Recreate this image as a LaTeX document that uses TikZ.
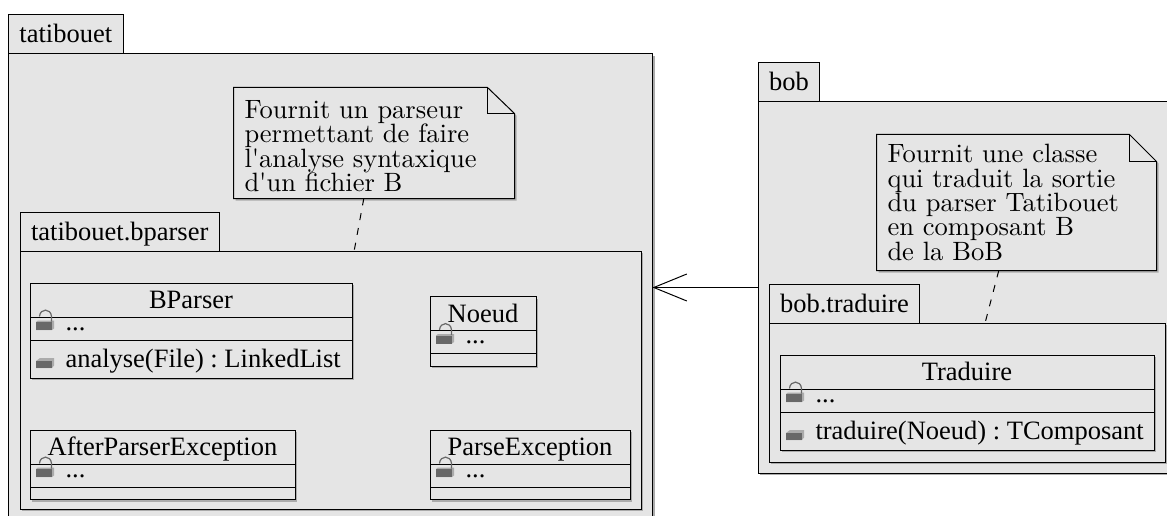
\documentclass[tikz,border=0pt]{standalone}
\usepackage{fontspec}
\setmainfont{Liberation Serif}
\newfontfamily\notefont{lmroman10-regular}[Extension=.otf]
\usepackage{tikz}
\usetikzlibrary{positioning,shadows,arrows.meta}
\definecolor{umlfill}{HTML}{E5E5E5}
\definecolor{umlshadow}{HTML}{ABABAB}
\definecolor{umlicon}{HTML}{686868}
\tikzset{
    umlshade/.style={drop shadow={shadow xshift=2.2pt, shadow yshift=-2.2pt, fill=umlshadow, opacity=1}},
    lockicon/.pic={
        \fill[umlshadow] (6,-6.5) -- (8,-8) -- (24,-8) -- (24,0) -- (22,1.5) -- (6,1.5) -- cycle;
        \fill[umlicon] (6,-6.5) rectangle (22,1.5);
        \draw[umlicon, line width=1.2pt] (9.5,-12) .. controls (10,-20.5) and (21,-20.5) .. (21.5,-12) -- (21.5,-7);
    },
    cubeicon/.pic={
        \fill[umlshadow] (6,2) -- (10,-1) -- (24,-1) -- (24,6.5) -- (22,9) -- (6,9) -- cycle;
        \fill[umlicon] (6,2) rectangle (22,9);
    },
}

\begin{document}
\begin{tikzpicture}[
x=1pt, y=-1pt, line width=1pt,
every node/.style={font=\frenchspacing\fontsize{26.5pt}{30pt}\selectfont, outer sep=0pt, inner sep=0pt},
packagebody/.style={rectangle, draw=black, fill=umlfill, umlshade, anchor=north west},
packagetab/.style={rectangle, draw=black, fill=umlfill, inner xsep=11pt, minimum height=39pt, text height=17pt, text depth=0pt},
classname/.style={rectangle, draw=black, fill=umlfill, umlshade, minimum width=#1, minimum height=34pt, text height=17pt, text depth=0pt},
classattr/.style={rectangle, draw=black, fill=umlfill, umlshade, minimum width=#1, minimum height=23pt},
classoper/.style={rectangle, draw=black, fill=umlfill, umlshade, minimum width=#1, minimum height=38pt},
classempty/.style={rectangle, draw=black, fill=umlfill, umlshade, minimum width=#1, minimum height=12.5pt},
membertext/.style={anchor=base west},
notebox/.style={draw=black, fill=umlfill, umlshade},
notetext/.style={font=\notefont\fontsize{26.5pt}{24.4pt}\selectfont, anchor=north west, inner xsep=11pt, align=left},
]
\clip (0,0) rectangle (1167,516);

% left package
\node[packagebody, minimum width=644pt, minimum height=468pt] (tatibouet) at (8.5,54) {};
\node[packagetab] (tatibouettab) [above right=0pt of tatibouet.north west] {tatibouet};

\draw[notebox] (233.5,87.5) -- (487.5,87.5) -- (514.5,113.5) -- (514.5,198.5) -- (233.5,198.5) -- cycle;
\draw (487.5,87.5) -- (487.5,113.5) -- (514.5,113.5);
\node[notetext, text width=259pt, minimum height=111pt] (noteparser) at (233.5,87.5) {\rule{0pt}{24pt}Fournit un parseur\\permettant de faire\\l'analyse syntaxique\\d'un fichier B};

\node[packagebody, minimum width=621pt, minimum height=258pt] (bparser) at (20,251) {};
\node[packagetab] (bparsertab) [above right=0pt of bparser.north west] {tatibouet.bparser};

\node[classname=322pt] (parserclass) at (191,300) {BParser};
\node[classattr=322pt] (parserattr) [below=0pt of parserclass] {};
\node[classoper=322pt] (parseroper) [below=0pt of parserattr] {};
\node[membertext] (parserdots) at ([shift={(35.5,1.5)}]parserattr.west) {...};
\node[membertext] (parsertext) at ([shift={(35.5,8)}]parseroper.west) {analyse(File) : LinkedList};
\pic at (parserattr.west) {lockicon};
\pic at (parseroper.west) {cubeicon};

\node[classname=106pt] (noeudclass) at (483,313.5) {Noeud};
\node[classattr=106pt] (noeudattr) [below=0pt of noeudclass] {};
\node[classempty=106pt] (noeudoper) [below=0pt of noeudattr] {};
\node[membertext] (noeuddots) at ([shift={(35.5,1.5)}]noeudattr.west) {...};
\pic at (noeudattr.west) {lockicon};

\node[classname=265pt] (afterclass) at (162.5,447) {AfterParserException};
\node[classattr=265pt] (afterattr) [below=0pt of afterclass] {};
\node[classempty=265pt] (afteroper) [below=0pt of afterattr] {};
\node[membertext] (afterdots) at ([shift={(35.5,1.5)}]afterattr.west) {...};
\pic at (afterattr.west) {lockicon};

\node[classname=200pt] (parseclass) at (530,447) {ParseException};
\node[classattr=200pt] (parseattr) [below=0pt of parseclass] {};
\node[classempty=200pt] (parseoper) [below=0pt of parseattr] {};
\node[membertext] (parsedots) at ([shift={(35.5,1.5)}]parseattr.west) {...};
\pic at (parseattr.west) {lockicon};

% right package
\node[packagebody, minimum width=440pt, minimum height=371pt] (bob) at (758,102) {};
\node[packagetab] (bobtab) [above right=0pt of bob.north west] {bob};

\draw[notebox] (876.5,134.5) -- (1129.5,134.5) -- (1156.5,161.5) -- (1156.5,270.5) -- (876.5,270.5) -- cycle;
\draw (1129.5,134.5) -- (1129.5,161.5) -- (1156.5,161.5);
\node[notetext, text width=258pt, minimum height=136pt] (notetraduire) at (876.5,134.5) {Fournit une classe\\qui traduit la sortie\\du parser Tatibouet\\en composant B\\de la BoB};

\node[packagebody, minimum width=396pt, minimum height=139pt] (traduire) at (769,323) {};
\node[packagetab] (traduiretab) [above right=0pt of traduire.north west] {bob.traduire};

\node[classname=374pt] (traduireclass) at (967,372) {Traduire};
\node[classattr=374pt] (traduireattr) [below=0pt of traduireclass] {};
\node[classoper=374pt] (traduireoper) [below=0pt of traduireattr] {};
\node[membertext] (traduiredots) at ([shift={(35.5,1.5)}]traduireattr.west) {...};
\node[membertext] (traduiretext) at ([shift={(35.5,8)}]traduireoper.west) {traduire(Noeud) : TComposant};
\pic at (traduireattr.west) {lockicon};
\pic at (traduireoper.west) {cubeicon};

\draw[dashed, dash pattern=on 7pt off 8pt] (noteparser) -- (bparser);
\draw[dashed, dash pattern=on 7pt off 8pt] (notetraduire) -- (traduire);
\draw[-{Straight Barb[length=33pt,width=27pt]}] (bob.west) -- (bob.west -| tatibouet.east);
\end{tikzpicture}
\end{document}
